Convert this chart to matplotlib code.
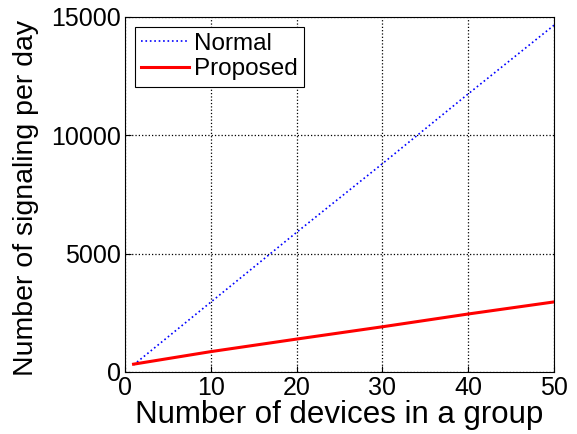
import matplotlib
matplotlib.use("Agg")
import matplotlib.pyplot as plt

# data
devices = [1, 10, 20, 30, 40, 50]
normal = [300, 2950, 5900, 8800, 11750, 14650]
proposed = [330, 860, 1390, 1910, 2450, 2960]

plt.rcParams['font.family'] = ['Liberation Sans', 'DejaVu Sans']

fig = plt.figure(figsize=(5.77, 4.34), dpi=100)
ax = fig.add_axes([0.2166, 0.1429, 0.7435, 0.818])

ax.plot(devices, normal, color='blue', linestyle=':', linewidth=1.2, label='Normal')
ax.plot(devices, proposed, color='red', linestyle='-', linewidth=2.2, label='Proposed')

ax.set_xlim(0, 50)
ax.set_ylim(0, 15000)
ax.set_xticks([0, 10, 20, 30, 40, 50])
ax.set_yticks([0, 5000, 10000, 15000])
ax.grid(True, color='black', linestyle=':', linewidth=0.9)
ax.tick_params(labelsize=18, direction='in', length=4, pad=3)
for s in ax.spines.values():
    s.set_linewidth(0.8)
ax.set_xlabel('Number of devices in a group', fontsize=22.5, labelpad=0)
ax.set_ylabel('Number of signaling per day', fontsize=20.5, labelpad=3)
ax.yaxis.set_label_coords(-0.2, 0.49)

leg = ax.legend(loc='upper left', fontsize=17.5, fancybox=False, framealpha=1,
                edgecolor='black', handlelength=2.0, handletextpad=0.2,
                borderpad=0.25, labelspacing=0.15, borderaxespad=0.4)
leg.get_frame().set_linewidth(0.8)

fig.savefig('out.png', dpi=100)
